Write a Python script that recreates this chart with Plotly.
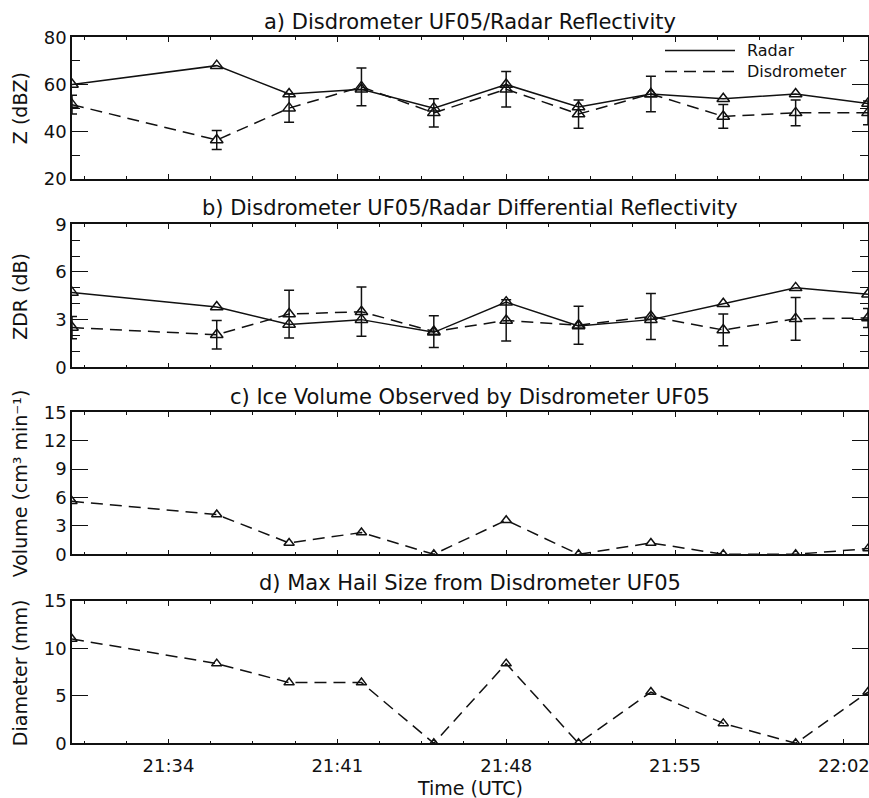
import plotly.graph_objects as go

# Observation times (UTC) and measured quantities
times = ["21:30", "21:36", "21:39", "21:42", "21:45", "21:48",
         "21:51", "21:54", "21:57", "22:00", "22:03"]

z_radar = [60, 68, 56, 58, 50, 60, 50.5, 56, 54, 56, 52]
z_disdro = [51.5, 36.5, 50, 59, 48, 58, 47.5, 56, 46.5, 48, 48]
z_disdro_err = [4, 4, 6, 8, 6, 7.5, 6, 7.5, 5, 5.5, 5]

zdr_radar = [4.7, 3.8, 2.7, 3.0, 2.2, 4.1, 2.6, 3.0, 4.0, 5.0, 4.6]
zdr_disdro = [2.5, 2.05, 3.35, 3.5, 2.25, 2.95, 2.65, 3.2, 2.35, 3.05, 3.1]
zdr_disdro_err = [0.7, 0.9, 1.5, 1.55, 1.0, 1.3, 1.2, 1.45, 1.0, 1.35, 0.6]

ice_volume = [5.6, 4.2, 1.2, 2.3, 0, 3.6, 0, 1.2, 0, 0, 0.6]
hail_diameter = [11, 8.4, 6.4, 6.4, 0, 8.4, 0, 5.4, 2.1, 0, 5.4]

tick_labels = ["21:34", "21:41", "21:48", "21:55", "22:02"]

panel_titles = [
    "a) Disdrometer UF05/Radar Reflectivity",
    "b) Disdrometer UF05/Radar Differential Reflectivity",
    "c) Ice Volume Observed by Disdrometer UF05",
    "d) Max Hail Size from Disdrometer UF05",
]
y_titles = ["Z (dBZ)", "ZDR (dB)", "Volume (cm\u00b3 min\u207b\u00b9)", "Diameter (mm)"]


def to_minutes(hhmm):
    h, m = hhmm.split(":")
    return int(h) * 60 + int(m)


x = [to_minutes(t) for t in times]
tick_vals = [to_minutes(t) for t in tick_labels]

W, H = 869, 798
FONT = "DejaVu Sans"
BLACK = "#111111"

# panel vertical extents in pixels (top, bottom)
panels_px = [(37.3, 179.0), (224.3, 367.3), (412.3, 554.3), (601.0, 743.3)]
title_px = [22.0, 207.5, 396.7, 583.0]
y_ranges = [[20, 80], [0, 9], [0, 15], [0, 15]]
y_dticks = [20, 3, 3, 5]
y_minor = [10, 1, None, None]

MARGIN_L, MARGIN_R = 72, 1
plot_w = W - MARGIN_L - MARGIN_R


def py(px):
    return 1 - px / H


def px_x(px):
    return (px - MARGIN_L) / plot_w


fig = go.Figure()

dash_style = "12px,7px"


def add_series(row, yvals, dash, err=None, msize=11):
    suffix = "" if row == 1 else str(row)
    kw = {}
    if err is not None:
        kw["error_y"] = dict(type="data", array=err, symmetric=True,
                             thickness=1.5, width=5, color=BLACK)
    fig.add_trace(go.Scatter(
        x=x, y=yvals, mode="lines+markers",
        line=dict(color=BLACK, width=1.5, dash=dash),
        marker=dict(symbol="triangle-up-open", size=msize,
                    line=dict(color=BLACK, width=1.5)),
        xaxis="x" + suffix, yaxis="y" + suffix,
        showlegend=False, **kw))


add_series(1, z_radar, "solid")
add_series(1, z_disdro, dash_style, z_disdro_err)
add_series(2, zdr_radar, "solid")
add_series(2, zdr_disdro, dash_style, zdr_disdro_err)
add_series(3, ice_volume, dash_style, msize=9)
add_series(4, hail_diameter, dash_style, msize=9)

layout = dict(
    width=W, height=H,
    margin=dict(l=MARGIN_L, r=MARGIN_R, t=0, b=0),
    paper_bgcolor="white", plot_bgcolor="white",
    font=dict(family=FONT, color=BLACK, size=18),
    showlegend=False,
)

annotations = []
shapes = []

for i in range(4):
    n = i + 1
    sx = "" if n == 1 else str(n)
    top, bot = panels_px[i]
    layout["xaxis" + sx] = dict(
        domain=[0, 1], anchor="y" + sx,
        range=[x[0], x[-1]],
        tickmode="array", tickvals=tick_vals, ticktext=tick_labels,
        showticklabels=(n == 4), ticklabeloverflow="allow",
        ticklabelstandoff=5,
        ticks="inside", ticklen=5, tickwidth=1.2, tickcolor=BLACK,
        minor=dict(tickmode="linear", tick0=tick_vals[0], dtick=1.75,
                   ticks="inside", ticklen=3, tickwidth=1.2, tickcolor=BLACK),
        showline=True, linecolor=BLACK, linewidth=1.5, mirror="allticks",
        showgrid=False, zeroline=False,
        tickfont=dict(size=18, family=FONT),
        automargin=False,
    )
    ydict = dict(
        domain=[py(bot), py(top)], anchor="x" + sx,
        range=y_ranges[i],
        tickmode="linear", tick0=0, dtick=y_dticks[i],
        ticks="inside", ticklen=16, tickwidth=1.2, tickcolor=BLACK,
        showline=True, linecolor=BLACK, linewidth=1.5, mirror="allticks",
        showgrid=False, zeroline=False,
        tickfont=dict(size=18, family=FONT),
        automargin=False,
    )
    if y_minor[i] is not None:
        ydict["minor"] = dict(tickmode="linear", tick0=0, dtick=y_minor[i],
                              ticks="inside", ticklen=8, tickwidth=1.2,
                              tickcolor=BLACK)
    layout["yaxis" + sx] = ydict

    annotations.append(dict(
        text=panel_titles[i], xref="paper", yref="paper",
        x=0.5, y=py(title_px[i]), xanchor="center", yanchor="middle",
        showarrow=False, font=dict(size=21, family=FONT, color=BLACK)))
    annotations.append(dict(
        text=y_titles[i], xref="paper", yref="paper",
        x=px_x(20), y=py((top + bot) / 2), xanchor="center", yanchor="middle",
        textangle=-90, showarrow=False,
        font=dict(size=19, family=FONT, color=BLACK)))

annotations.append(dict(
    text="Time (UTC)", xref="paper", yref="paper",
    x=0.5, y=py(788), xanchor="center", yanchor="middle",
    showarrow=False, font=dict(size=19, family=FONT, color=BLACK)))

# legend for panel a
legend_items = [("Radar", "solid", 50.5), ("Disdrometer", dash_style, 71.5)]
for label, dash, ypx in legend_items:
    shapes.append(dict(type="line", xref="paper", yref="paper",
                       x0=px_x(665), x1=px_x(735), y0=py(ypx), y1=py(ypx),
                       line=dict(color=BLACK, width=1.5, dash=dash)))
    annotations.append(dict(
        text=label, xref="paper", yref="paper",
        x=px_x(746), y=py(ypx), xanchor="left", yanchor="middle",
        borderpad=0, showarrow=False,
        font=dict(size=16, family=FONT, color=BLACK)))

layout["annotations"] = annotations
layout["shapes"] = shapes
fig.update_layout(**layout)

fig.write_html("out.html")
